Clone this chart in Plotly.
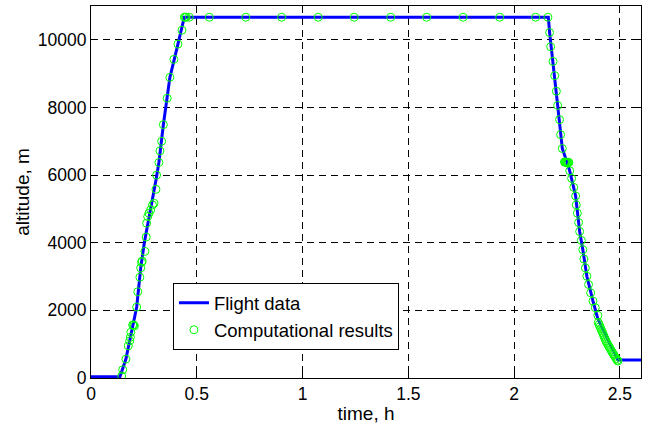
import plotly.graph_objects as go

# Flight data (time in h, altitude in m)
flight_t = [0.0, 0.137, 0.165, 0.200, 0.216, 0.235, 0.252, 0.307, 0.321, 0.342, 0.373, 0.411, 0.441,
            2.162, 2.168, 2.206, 2.228, 2.250, 2.263, 2.291, 2.310, 2.325, 2.344, 2.373, 2.396, 2.491, 2.6]
flight_alt = [40, 40, 560, 1560, 2100, 3250, 4000, 5850, 6373, 7490, 8890, 9873, 10668,
              10668, 10215, 8059, 6785, 6380, 6127, 5382, 4332, 3794, 3009, 2274, 1750, 530, 530]

# Computational results
comp_t = [0.145, 0.150, 0.165, 0.176, 0.183, 0.186, 0.188, 0.197, 0.202, 0.205, 0.216, 0.221, 0.231,
          0.235, 0.239, 0.242, 0.255, 0.261, 0.263, 0.268, 0.274, 0.282, 0.291, 0.298, 0.307, 0.310,
          0.321, 0.326, 0.334, 0.342, 0.360, 0.373, 0.392, 0.411, 0.430, 0.441, 0.446, 0.450, 0.464,
          0.559, 0.732, 0.901, 1.074, 1.244, 1.417, 1.587, 1.759, 1.932, 2.102, 2.160,
          2.168, 2.173, 2.184, 2.192, 2.200, 2.206, 2.215, 2.220, 2.228,
          2.238, 2.241, 2.244, 2.247, 2.250, 2.253, 2.256, 2.259,
          2.263, 2.272, 2.282, 2.291, 2.294, 2.299, 2.305, 2.310, 2.318, 2.325, 2.330, 2.337,
          2.344, 2.352, 2.362, 2.373, 2.384, 2.396,
          2.398, 2.402, 2.406, 2.410, 2.414, 2.418, 2.422, 2.426, 2.430, 2.434, 2.438, 2.443,
          2.448, 2.453, 2.458, 2.463, 2.468, 2.473, 2.478, 2.483, 2.488, 2.491]
comp_alt = [59, 244, 559, 950, 1097, 1206, 1353, 1568, 1568, 1538, 2097, 2550, 2980,
            3256, 3420, 3460, 3745, 4168, 4579, 4774, 4873, 4971, 5118, 5168, 5579, 6000,
            6373, 6715, 7000, 7491, 8274, 8891, 9421, 9873, 10285, 10668, 10668, 10668, 10668,
            10668, 10668, 10668, 10668, 10668, 10668, 10668, 10668, 10668, 10668, 10668,
            10215, 9794, 9362, 8941, 8480, 8059, 7638, 7197, 6785,
            6390, 6380, 6385, 6370, 6375, 6365, 6380, 6370,
            6127, 5903, 5638, 5382, 5118, 4873, 4597, 4332, 4068, 3794, 3520, 3256,
            3009, 2765, 2520, 2274, 2079, 1853,
            1640, 1580, 1520, 1460, 1400, 1340, 1280, 1220, 1160, 1100, 1045, 990,
            935, 880, 825, 770, 720, 670, 620, 570, 530, 500]

x_ticks = [0, 0.5, 1, 1.5, 2, 2.5]
x_ticktext = ["0", "0.5", "1", "1.5", "2", "2.5"]
y_ticks = [0, 2000, 4000, 6000, 8000, 10000]
y_ticktext = ["0", "2000", "4000", "6000", "8000", "10000"]

FONT = "Liberation Sans, Arial, sans-serif"

fig = go.Figure()
fig.add_trace(go.Scatter(x=flight_t, y=flight_alt, mode="lines", name="Flight data",
                         line=dict(color="#0000FF", width=3)))
fig.add_trace(go.Scatter(x=comp_t, y=comp_alt, mode="markers", name="Computational results",
                         marker=dict(symbol="circle-open", size=8, color="#00FF00",
                                     line=dict(width=1, color="#00FF00"))))

axis_common = dict(showline=True, linecolor="black", linewidth=1, mirror="ticks",
                   ticks="inside", ticklen=5, tickcolor="black", tickwidth=1,
                   showgrid=True, gridcolor="black", gridwidth=0.8, griddash="7px,5px",
                   zeroline=False, tickfont=dict(family=FONT, size=17.5, color="black"))

fig.update_xaxes(range=[0, 2.6], tickvals=x_ticks, ticktext=x_ticktext,
                 title=dict(text="time, h", font=dict(family=FONT, size=19, color="black"), standoff=3),
                 **axis_common)
fig.update_yaxes(range=[0, 11000], tickvals=y_ticks, ticktext=y_ticktext,
                 title=dict(text="altitude, m", font=dict(family=FONT, size=19, color="black"), standoff=3),
                 **axis_common)

fig.update_layout(
    width=651, height=425,
    margin=dict(l=91, r=10, t=5, b=46),
    plot_bgcolor="white", paper_bgcolor="white",
    font=dict(family=FONT, size=17.5, color="black"),
    legend=dict(x=0.149, y=0.255, xanchor="left", yanchor="top",
                bordercolor="black", borderwidth=1, bgcolor="white",
                font=dict(family=FONT, size=18.5, color="black"),
                itemwidth=30, tracegroupgap=0),
    showlegend=True,
)

fig.write_html("out.html", config={"displayModeBar": False},
               post_script="document.body.style.margin='0px';document.body.style.overflow='hidden';")
